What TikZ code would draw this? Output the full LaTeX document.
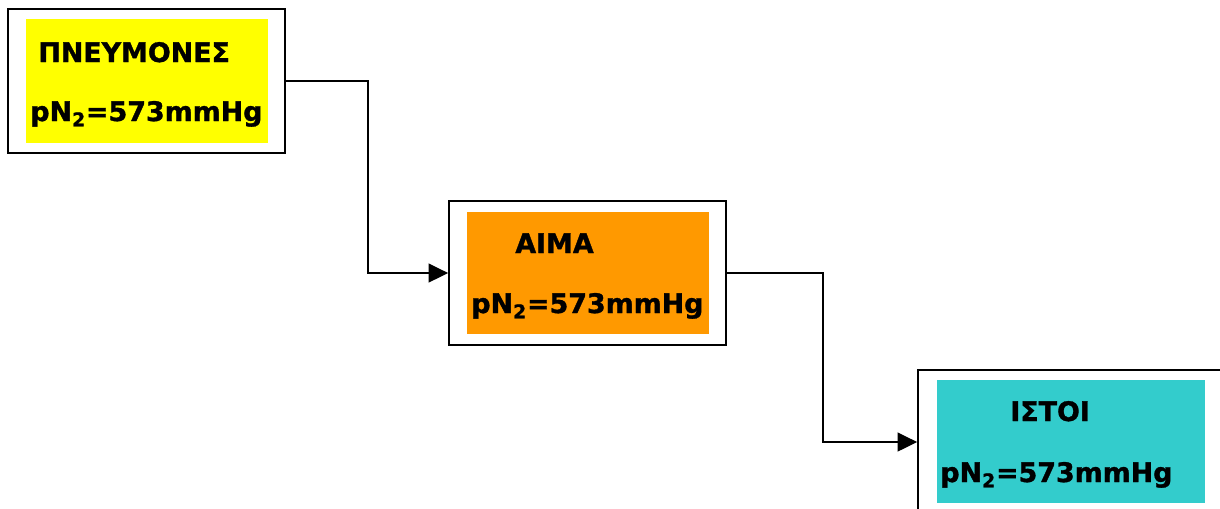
\documentclass[tikz,border=0pt]{standalone}
\usepackage{fontspec}
\setmainfont{DejaVu Sans}[BoldFeatures={FakeBold=1.2}]
\usepackage{xcolor}
\usepackage{tikz}
\usetikzlibrary{arrows.meta,positioning,calc}
\definecolor{poumon}{RGB}{255,255,0}
\definecolor{sang}{RGB}{255,153,0}
\definecolor{tissu}{RGB}{51,204,204}
\begin{document}
\begin{tikzpicture}[x=0.02cm,y=-0.02cm,
    cadre/.style={draw,line width=1.1pt,fill=white,minimum width=5.54cm,minimum height=2.88cm,inner sep=0},
    fond/.style={inner sep=0,minimum width=4.84cm,minimum height=2.46cm},
    txt/.style={anchor=base west,inner sep=0,font=\fontsize{15.3}{18}\selectfont\bfseries},
    lien/.style={line width=0.85pt,-{Triangle[length=0.39cm,width=0.38cm]}}]
    % echelle : 1 px = 0.02 cm, y vers le bas
    \useasboundingbox (0,0) rectangle (1220,508);
    \node[cadre] (lungs) at (146.5,81) {};
    \node[cadre] (blood) at (587.5,273) {};
    \node[cadre,minimum width=6.1cm] (tissue) at (1070.5,442) {};
    \node[fond,fill=poumon,minimum height=2.48cm] (lungsbg) at (147,81) {};
    \node[fond,fill=sang,minimum height=2.44cm] (bloodbg) at (588,273) {};
    \node[fond,fill=tissu,minimum width=5.36cm] (tissuebg) at (1071,441.5) {};
    \node[txt] (lungsname) at (38,62) {ΠΝΕΥΜΟΝΕΣ};
    \node[txt] (lungsp) at (30,121) {pN\textsubscript{2}=573mmHg};
    \node[txt] (bloodname) at (515,253) {AIMA};
    \node[txt] (bloodp) at (471,313) {pN\textsubscript{2}=573mmHg};
    \node[txt] (tissuename) at (1010,421) {ΙΣΤΟΙ};
    \node[txt] (tissuep) at (940,482) {pN\textsubscript{2}=573mmHg};
    \draw[lien] (lungs.east) -- ++(82,0) |- (blood.west);
    \draw[lien] (blood.east) -- ++(96,0) |- (tissue.west);
\end{tikzpicture}
\end{document}
